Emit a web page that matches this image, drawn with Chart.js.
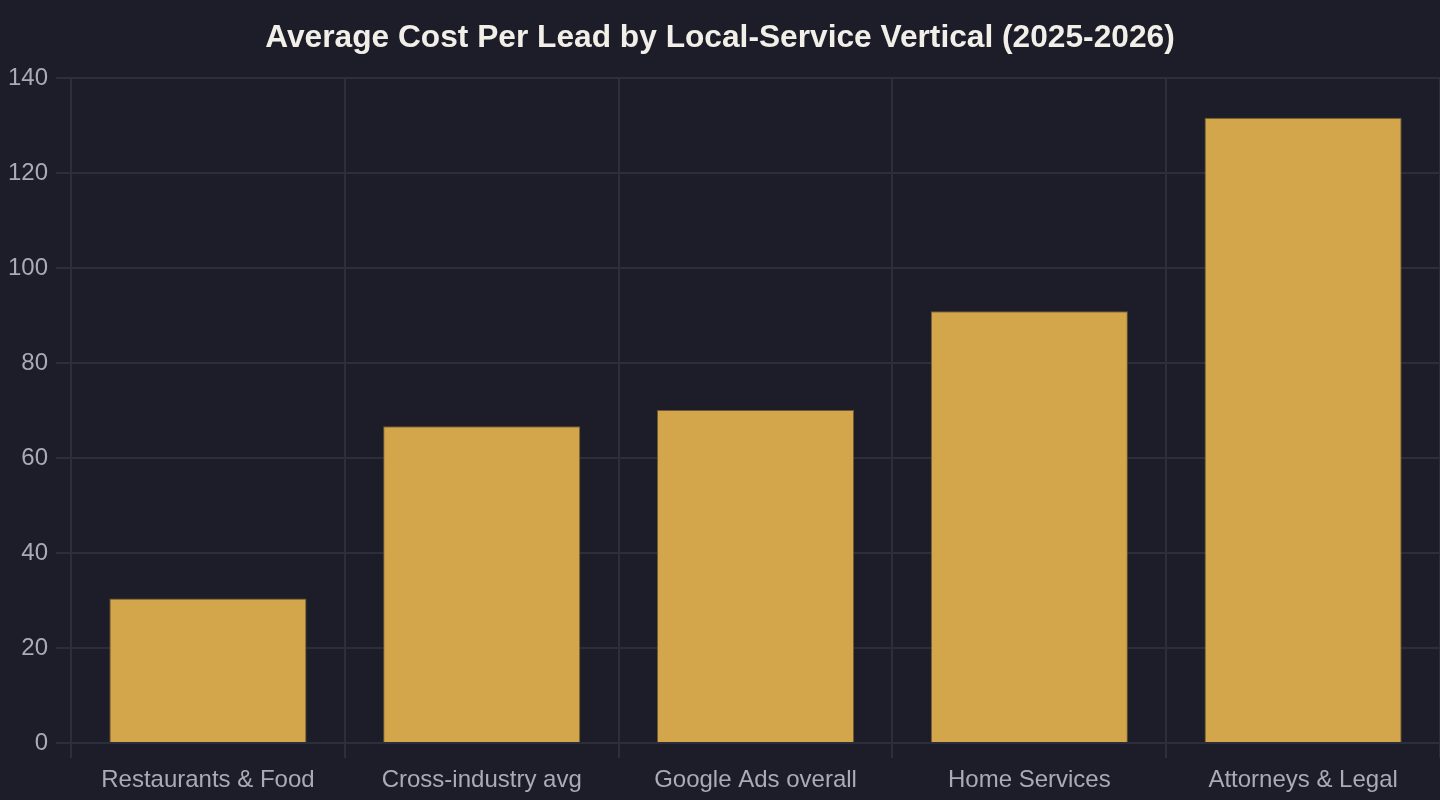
<!DOCTYPE html>
<html>
<head>
<meta charset="utf-8">
<script src="https://cdn.jsdelivr.net/npm/chart.js@4.4.1/dist/chart.umd.min.js"></script>
<style>
html,body{margin:0;padding:0;background:#1c1d28;}
#wrap{width:1440px;height:800px;position:relative;}
</style>
</head>
<body>
<div id="wrap"><canvas id="c"></canvas></div>
<script>
const categories = ["Restaurants & Food", "Cross-industry avg", "Google Ads overall", "Home Services", "Attorneys & Legal"];
const costPerLead = [30.4, 66.69, 70.11, 90.92, 131.63];
const titleText = "Average Cost Per Lead by Local-Service Vertical (2025-2026)";

const bg = {
  id: 'bg',
  beforeDraw(chart) {
    const ctx = chart.ctx;
    ctx.save();
    ctx.fillStyle = '#1c1d28';
    ctx.fillRect(0, 0, chart.width, chart.height);
    ctx.restore();
  }
};

const FONT = 'Liberation Sans, Arial, sans-serif';
const GRID = '#2c2e3b';

new Chart(document.getElementById('c'), {
  type: 'bar',
  data: {
    labels: categories,
    datasets: [{
      label: 'Cost per lead',
      data: costPerLead,
      backgroundColor: '#d4a64c',
      borderColor: 'rgba(120,95,50,0.9)',
      borderWidth: 1
    }]
  },
  options: {
    responsive: true,
    maintainAspectRatio: false,
    animation: false,
    layout: { padding: 0 },
    plugins: {
      legend: { display: false },
      tooltip: { enabled: false },
      title: {
        display: true,
        text: titleText,
        color: '#f2efe8',
        font: { family: FONT, size: 31.7, weight: 'bold' },
        padding: { top: 19, bottom: 21 }
      }
    },
    scales: {
      x: {
        afterFit(scale) { scale.height = 57; },
        grid: { color: GRID, lineWidth: 2, tickLength: 15 },
        border: { color: GRID, width: 2 },
        ticks: { color: '#a9abb8', font: { family: FONT, size: 24, lineHeight: 1.03 }, padding: 10 }
      },
      y: {
        min: 0,
        max: 140,
        grid: { color: GRID, lineWidth: 2, tickLength: 15 },
        border: { color: GRID, width: 2 },
        ticks: { stepSize: 20, color: '#a9abb8', font: { family: FONT, size: 24 }, padding: 8 }
      }
    }
  },
  plugins: [bg]
});
</script>
</body>
</html>
